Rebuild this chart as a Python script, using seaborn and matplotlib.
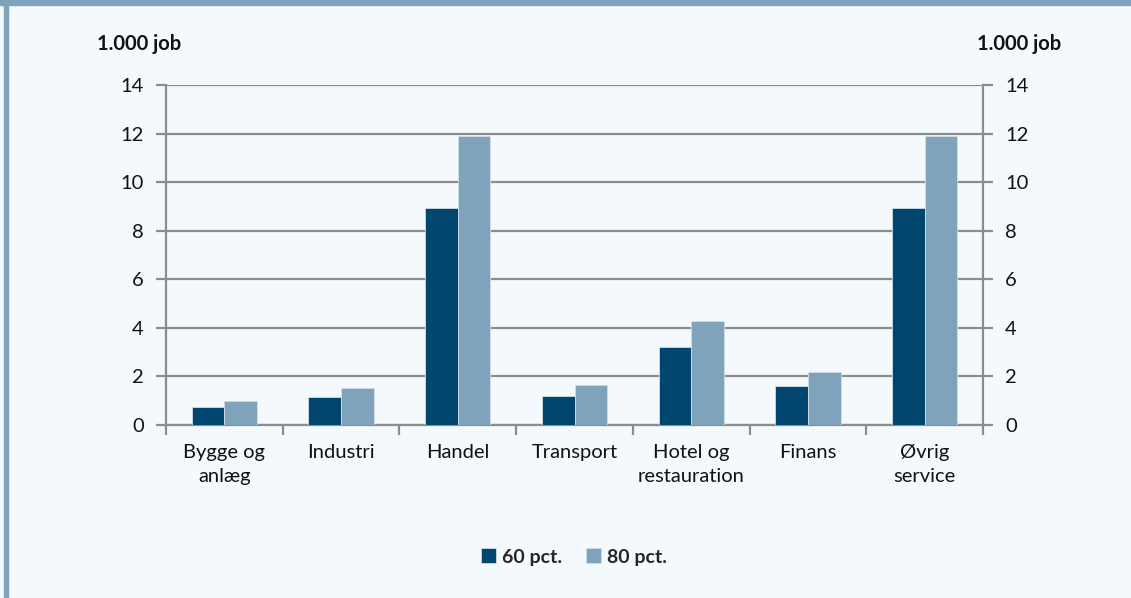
import matplotlib
matplotlib.use("Agg")
import matplotlib.pyplot as plt
import seaborn as sns
import pandas as pd
from matplotlib.ticker import FixedLocator

categories = ["Bygge og\nanlæg", "Industri", "Handel", "Transport", "Hotel og\nrestauration", "Finans", "Øvrig\nservice"]
series_names = ["60 pct.", "80 pct."]
values_60 = [0.75, 1.14, 8.92, 1.2, 3.21, 1.62, 8.92]
values_80 = [1.0, 1.52, 11.88, 1.65, 4.29, 2.17, 11.88]
y_ticks = [0, 2, 4, 6, 8, 10, 12, 14]
unit_label = "1.000 job"

df = pd.DataFrame({
    "cat": categories * 2,
    "series": [series_names[0]] * len(categories) + [series_names[1]] * len(categories),
    "value": values_60 + values_80,
})

bg = "#F4F9FD"
dark = "#00466E"
light = "#7FA3BA"
grid_c = "#8C8C8C"

sns.set_theme(style="white")
plt.rcParams["font.family"] = ["Lato", "DejaVu Sans"]

fig = plt.figure(figsize=(11.31, 5.98), dpi=100, facecolor=bg)
W, H = 1131, 598
ax = fig.add_axes([166 / W, 1 - 425 / H, (983 - 166) / W, (425 - 85) / H])
ax.set_facecolor(bg)

sns.barplot(data=df, x="cat", y="value", hue="series", order=categories,
            hue_order=series_names, palette=[dark, light], width=0.56,
            ax=ax, saturation=1, edgecolor="#D0DEE8", linewidth=0.6, zorder=3)

ax.set_xlim(-0.5, len(categories) - 0.5)
ax.set_ylim(0, 14)
ax.set_yticks(y_ticks)
ax.set_xlabel("")
ax.set_ylabel("")
ax.grid(axis="y", color=grid_c, linewidth=1.6, zorder=0)
ax.set_axisbelow(True)

for s in ["left", "right", "bottom"]:
    ax.spines[s].set_color(grid_c)
    ax.spines[s].set_linewidth(1.6)
ax.spines["top"].set_visible(False)

ax.tick_params(axis="y", which="major", direction="out", length=7, width=1.6,
               color=grid_c, labelsize=14.5, pad=9, left=True, labelcolor="#111111")
ax.tick_params(axis="x", which="major", length=0, labelsize=14.5, pad=14, labelcolor="#111111")
ax.xaxis.set_minor_locator(FixedLocator([i - 0.5 for i in range(len(categories) + 1)]))
ax.tick_params(axis="x", which="minor", direction="out", length=7, width=1.6, color=grid_c, bottom=True)
for lbl in ax.get_xticklabels():
    lbl.set_linespacing(1.45)

ax2 = ax.twinx()
ax2.set_ylim(0, 14)
ax2.set_yticks(y_ticks)
for s in ax2.spines.values():
    s.set_visible(False)
ax2.tick_params(axis="y", direction="out", length=7, width=1.6, color=grid_c,
                labelsize=14.5, pad=9, labelcolor="#111111")

leg = ax.legend(loc="center", bbox_to_anchor=(574 / W, 1 - 557 / H), bbox_transform=fig.transFigure,
                ncol=2, frameon=False, handlelength=0.8, handleheight=0.8, handletextpad=0.3,
                columnspacing=1.2, prop={"weight": "bold", "size": 14})

fig.text(97 / W, 1 - 44 / H, unit_label, fontsize=14.5, fontweight="bold", va="center", ha="left", color="#111111")
fig.text(977 / W, 1 - 44 / H, unit_label, fontsize=14.5, fontweight="bold", va="center", ha="left", color="#111111")

# decorative frame: top band and left border
fig.patches.append(plt.Rectangle((0, 1 - 4.5 / H), 1, 4.5 / H, transform=fig.transFigure, color=light, zorder=0))
fig.patches.append(plt.Rectangle((4 / W, 0), 3.5 / W, 1, transform=fig.transFigure, color=light, zorder=0))

fig.savefig("out.png", dpi=100, facecolor=bg)
